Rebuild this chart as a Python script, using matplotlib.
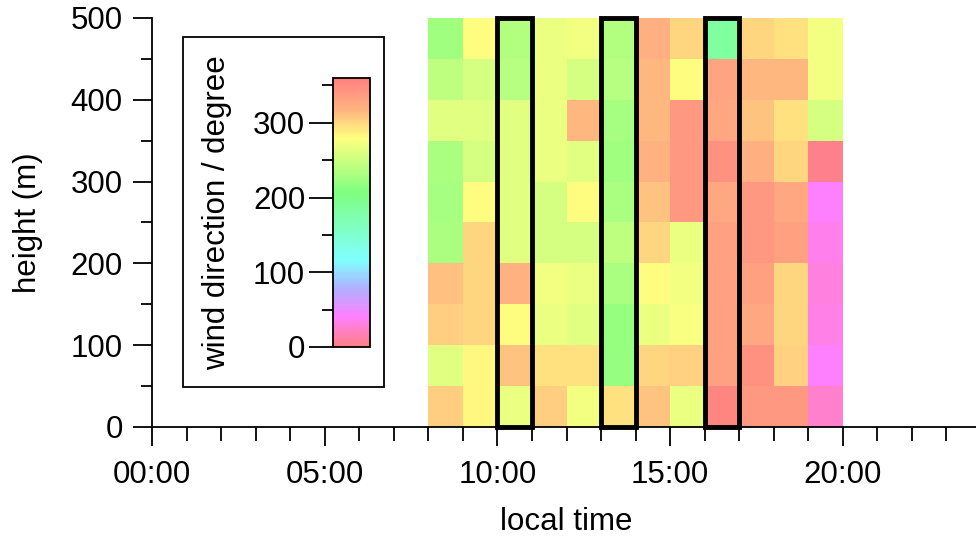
import numpy as np
import matplotlib
matplotlib.use("Agg")
import matplotlib.pyplot as plt
from matplotlib.colors import LinearSegmentedColormap
from matplotlib.patches import Rectangle
from matplotlib.ticker import MultipleLocator, FuncFormatter

plt.rcParams['font.family'] = ['Liberation Sans', 'DejaVu Sans']

# hour bins (start of each hour) and 50 m height bins
hours = [8, 9, 10, 11, 12, 13, 14, 15, 16, 17, 18, 19]
heights = [0, 50, 100, 150, 200, 250, 300, 350, 400, 450]

# wind direction (degree), one row per height bin, bottom row first
wind_dir = [
    [305, 283, 268, 305, 272, 295, 310, 268, 355, 340, 340, 25],
    [262, 283, 310, 295, 295, 220, 300, 303, 333, 345, 303, 40],
    [305, 300, 280, 268, 262, 220, 268, 276, 333, 327, 300, 33],
    [312, 300, 318, 272, 268, 232, 280, 272, 333, 333, 300, 30],
    [232, 300, 262, 255, 255, 243, 300, 268, 333, 340, 333, 35],
    [228, 280, 262, 255, 280, 232, 310, 340, 327, 340, 327, 40],
    [232, 255, 262, 268, 262, 225, 318, 340, 345, 320, 300, 5],
    [262, 262, 262, 268, 315, 228, 315, 340, 327, 310, 295, 255],
    [243, 255, 238, 268, 255, 238, 315, 280, 330, 315, 315, 272],
    [225, 280, 235, 268, 272, 235, 320, 300, 185, 300, 295, 272],
]

# highlighted hours
marked_hours = [10, 13, 16]

cmap = LinearSegmentedColormap.from_list('wind', [
    (0.0, '#ff8080'),
    (40 / 360, '#ff80ff'),
    (78 / 360, '#b0b0ff'),
    (116 / 360, '#80ffff'),
    (207 / 360, '#80ff80'),
    (280 / 360, '#ffff80'),
    (320 / 360, '#ffb080'),
    (1.0, '#ff8080'),
])

FS = 22.5
W, H = 976, 539
fig = plt.figure(figsize=(W / 100, H / 100), dpi=100)
ax = fig.add_axes([152 / W, (H - 427) / H, 829 / W, 409 / H])

x_edges = np.append(hours, hours[-1] + 1)
y_edges = np.append(heights, heights[-1] + 50)
mesh = ax.pcolormesh(x_edges, y_edges, np.array(wind_dir), cmap=cmap,
                     vmin=0, vmax=360)

for h in marked_hours:
    ax.add_patch(Rectangle((h, 0), 1, 500, fill=False, edgecolor='black',
                           linewidth=3.5, clip_on=False, zorder=5))

ax.set_xlim(0, 24)
ax.set_ylim(0, 500)
for s in ['top', 'right']:
    ax.spines[s].set_visible(False)
for s in ['left', 'bottom']:
    ax.spines[s].set_linewidth(1.3)

ax.xaxis.set_major_locator(MultipleLocator(5))
ax.xaxis.set_minor_locator(MultipleLocator(1))
ax.xaxis.set_major_formatter(FuncFormatter(lambda v, p: '%02d:00' % int(v)))
ax.yaxis.set_major_locator(MultipleLocator(100))
ax.yaxis.set_minor_locator(MultipleLocator(50))
ax.tick_params(which='major', direction='out', length=14, width=1.3,
               labelsize=FS, pad=7)
ax.tick_params(which='minor', direction='out', length=8, width=1.3)
ax.tick_params(axis='x', which='minor', length=10)
ax.tick_params(axis='x', which='major', pad=10)

ax.set_xlabel('local time', fontsize=FS, labelpad=12)
ax.set_ylabel('height (m)', fontsize=FS, labelpad=20)

# colorbar inside a framed box
fig.patches.append(Rectangle((183 / W, (H - 387) / H), 201 / W, 350 / H,
                             transform=fig.transFigure, fill=False,
                             edgecolor='black', linewidth=1.3))
cax = fig.add_axes([333 / W, (H - 347) / H, 37 / W, 269 / H])
cbar = fig.colorbar(mesh, cax=cax, ticks=[0, 100, 200, 300])
cbar.outline.set_linewidth(1.3)
cax.yaxis.set_minor_locator(MultipleLocator(50))
cax.yaxis.set_ticks_position('left')
cax.yaxis.set_label_position('left')
cax.tick_params(which='major', direction='out', length=17, width=1.3,
                labelsize=FS, pad=3)
cax.tick_params(which='minor', direction='out', length=8, width=1.3)
cbar.set_label('wind direction / degree', fontsize=FS, labelpad=15)

fig.savefig('out.png', dpi=100)
